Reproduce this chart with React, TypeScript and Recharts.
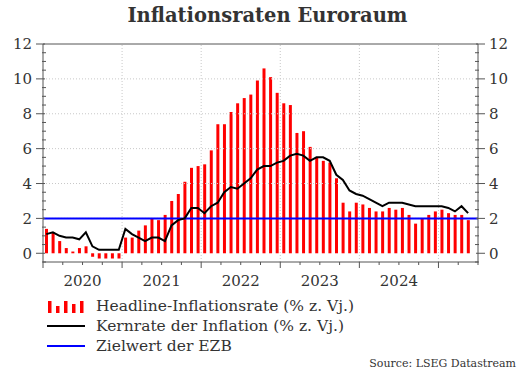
import React from 'react';
import { ComposedChart, Bar, Line, XAxis, YAxis, ReferenceLine } from 'recharts';

// Monatswerte Jan 2020 bis Mai 2025 (% z. Vj.)
const headline = [
  1.4, 1.2, 0.7, 0.3, 0.1, 0.3, 0.4, -0.2, -0.3, -0.3, -0.3, -0.3,
  0.9, 0.9, 1.3, 1.6, 2.0, 1.9, 2.2, 3.0, 3.4, 4.1, 4.9, 5.0,
  5.1, 5.9, 7.4, 7.4, 8.1, 8.6, 8.9, 9.1, 9.9, 10.6, 10.1, 9.2,
  8.6, 8.5, 6.9, 7.0, 6.1, 5.5, 5.3, 5.2, 4.3, 2.9, 2.4, 2.9,
  2.8, 2.6, 2.4, 2.4, 2.6, 2.5, 2.6, 2.2, 1.7, 2.0, 2.2, 2.4,
  2.5, 2.3, 2.2, 2.2, 1.9,
];

const core = [
  1.1, 1.2, 1.0, 0.9, 0.9, 0.8, 1.2, 0.4, 0.2, 0.2, 0.2, 0.2,
  1.4, 1.1, 0.9, 0.7, 0.9, 0.9, 0.7, 1.6, 1.9, 2.0, 2.6, 2.6,
  2.3, 2.7, 2.9, 3.5, 3.8, 3.7, 4.0, 4.3, 4.8, 5.0, 5.0, 5.2,
  5.3, 5.6, 5.7, 5.6, 5.3, 5.5, 5.5, 5.3, 4.5, 4.2, 3.6, 3.4,
  3.3, 3.1, 2.9, 2.7, 2.9, 2.9, 2.9, 2.8, 2.7, 2.7, 2.7, 2.7,
  2.7, 2.6, 2.4, 2.7, 2.3,
];

const years = ['2020', '2021', '2022', '2023', '2024'];
const yLabels = [0, 2, 4, 6, 8, 10, 12];
const ezbTarget = 2;

const FONT = '"DejaVu Serif", serif';
const TEXT = '#333';
const AXIS = '#555';

// t = Monatsindex (0 = Jan 2020)
const data = headline.map((h, i) => ({ t: i, headline: h, core: core[i] }));

const X_MIN = -0.5;
const X_MAX = 65.5;
const quarterTicks: number[] = [];
for (let q = X_MIN; q <= X_MAX; q += 3) quarterTicks.push(q);
const yearBounds = quarterTicks.filter((q) => (q - X_MIN) % 12 === 0 && q > X_MIN);
const yTicks: number[] = [];
for (let v = -0.5; v <= 12; v += 0.5) yTicks.push(v);

const XTick = (props: any) => {
  const { x, y, payload } = props;
  const v = payload.value;
  const isYear = (v - X_MIN) % 12 === 0;
  const yi = Math.round((v - X_MIN - 6) / 12);
  const label = (v - X_MIN) % 12 === 6 ? years[yi] : undefined;
  return (
    <g>
      <line x1={x} x2={x} y1={y} y2={y + (isYear ? 6 : 3)} stroke={AXIS} />
      {label && (
        <text x={x} y={y + 24} textAnchor="middle" fontFamily={FONT} fontSize={15} fill={TEXT}>
          {label}
        </text>
      )}
    </g>
  );
};

const YTick = (props: any) => {
  const { x, y, payload, side } = props;
  const v = payload.value;
  const major = yLabels.includes(v);
  const dir = side === 'left' ? -1 : 1;
  return (
    <g>
      {major ? (
        <line x1={x + dir * 7} x2={x - dir * 2} y1={y} y2={y} stroke={AXIS} />
      ) : (
        <line x1={x + dir * 1} x2={x - dir * 3} y1={y} y2={y} stroke={AXIS} />
      )}
      {major && (
        <text
          x={x + dir * 11}
          y={y}
          dy="0.35em"
          textAnchor={side === 'left' ? 'end' : 'start'}
          fontFamily={FONT}
          fontSize={15}
          fill={TEXT}
        >
          {v}
        </text>
      )}
    </g>
  );
};

const BarIcon = () => (
  <svg width={40} height={14}>
    {[12, 7, 12, 9, 12].map((h, i) => (
      <rect key={i} x={1 + i * 8} y={14 - h} width={3.5} height={h} fill="#ff0000" />
    ))}
  </svg>
);

const LineIcon = ({ color }: { color: string }) => (
  <svg width={40} height={14}>
    <line x1={0} x2={38} y1={7} y2={7} stroke={color} strokeWidth={2} />
  </svg>
);

const legendItems = [
  { label: 'Headline-Inflationsrate (% z. Vj.)', icon: <BarIcon /> },
  { label: 'Kernrate der Inflation (% z. Vj.)', icon: <LineIcon color="#000" /> },
  { label: 'Zielwert der EZB', icon: <LineIcon color="#0000ff" /> },
];

export default function App() {
  return (
    <div style={{ position: 'absolute', left: 0, top: 0, width: 520, height: 378, background: '#fff' }}>
      <div
        style={{
          position: 'absolute',
          top: 4,
          left: 0,
          width: 535,
          textAlign: 'center',
          fontFamily: FONT,
          fontWeight: 'bold',
          fontSize: 19.5,
          color: TEXT,
        }}
      >
        Inflationsraten Euroraum
      </div>
      <ComposedChart
        width={520}
        height={378}
        data={data}
        margin={{ top: 44, right: 0, bottom: 86, left: 0 }}
        barGap={0}
      >
        <XAxis
          dataKey="t"
          type="number"
          domain={[X_MIN, X_MAX]}
          ticks={quarterTicks}
          interval={0}
          height={30}
          tickSize={0}
          tickMargin={0}
          tick={<XTick />}
          stroke={AXIS}
          allowDataOverflow
        />
        <YAxis
          yAxisId="l"
          domain={[-0.5, 12]}
          ticks={yTicks}
          interval={0}
          width={43}
          tickSize={0}
          tickMargin={0}
          tick={<YTick side="left" />}
          stroke={AXIS}
          allowDataOverflow
        />
        <YAxis
          yAxisId="r"
          orientation="right"
          domain={[-0.5, 12]}
          ticks={yTicks}
          interval={0}
          width={42}
          tickSize={0}
          tickMargin={0}
          tick={<YTick side="right" />}
          stroke={AXIS}
          allowDataOverflow
        />
        {[2, 4, 6, 8, 10].map((v) => (
          <ReferenceLine key={v} yAxisId="l" y={v} stroke="#c8c8c8" strokeDasharray="1 2" />
        ))}
        {yearBounds.filter((b) => b < X_MAX).map((b) => (
          <ReferenceLine key={b} yAxisId="l" x={b} stroke="#c8c8c8" strokeDasharray="1 2" />
        ))}
        <ReferenceLine yAxisId="l" y={12} stroke={AXIS} />
        <Bar yAxisId="l" dataKey="headline" fill="#ff0000" barSize={3} isAnimationActive={false} />
        <ReferenceLine yAxisId="l" y={ezbTarget} stroke="#0000ff" strokeWidth={2} />
        <Line
          yAxisId="l"
          dataKey="core"
          type="linear"
          stroke="#000"
          strokeWidth={2}
          dot={false}
          isAnimationActive={false}
        />
      </ComposedChart>
      <div style={{ position: 'absolute', left: 47, top: 296, fontFamily: FONT, fontSize: 15.5, color: TEXT }}>
        {legendItems.map((it) => (
          <div key={it.label} style={{ display: 'flex', alignItems: 'center', height: 20 }}>
            <div style={{ width: 49, display: 'flex' }}>{it.icon}</div>
            <span>{it.label}</span>
          </div>
        ))}
      </div>
      <div
        style={{
          position: 'absolute',
          right: 4,
          top: 357,
          fontFamily: FONT,
          fontSize: 11,
          color: TEXT,
        }}
      >
        Source: LSEG Datastream
      </div>
    </div>
  );
}
